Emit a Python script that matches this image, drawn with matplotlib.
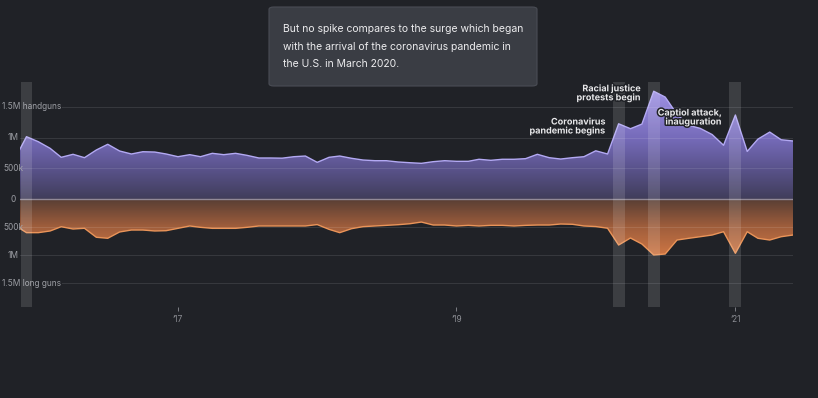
import numpy as np
import pandas as pd
import matplotlib
matplotlib.use("Agg")
import matplotlib.pyplot as plt
import matplotlib.dates as mdates
import matplotlib.patheffects as pe
from matplotlib.patches import FancyBboxPatch
from matplotlib.transforms import blended_transform_factory

plt.rcParams['font.family'] = ['Inter', 'DejaVu Sans']

# monthly estimates, Nov 2015 .. Jun 2021 (thousands)
months = pd.date_range('2015-11-01', '2021-06-01', freq='MS')
handguns = [660, 1015, 933, 825, 679, 728, 673, 798, 891, 782, 733, 770,
            765, 733, 689, 722, 689, 744, 722, 744, 711, 668, 668, 665,
            689, 700, 597, 679, 700, 663, 635, 624, 624, 603, 591, 581,
            608, 624, 614, 614, 647, 630, 647, 647, 657, 728, 673, 651,
            673, 689, 785, 733, 1225, 1145, 1220, 1755, 1660, 1380, 1200, 1150,
            1050, 875, 1368, 775, 975, 1090, 965, 945]
long_guns = [470, 599, 599, 569, 493, 534, 521, 681, 699, 587, 552, 552,
             569, 564, 522, 480, 504, 522, 522, 522, 504, 480, 480, 480,
             480, 480, 455, 540, 599, 528, 492, 480, 469, 457, 440, 410,
             463, 463, 480, 469, 480, 469, 469, 480, 469, 463, 463, 445,
             450, 480, 490, 520, 819, 694, 801, 996, 979, 730, 699, 671,
             641, 582, 966, 582, 699, 730, 671, 641]

events = ['2015-12-01', '2020-03-01', '2020-06-01', '2021-01-01']
event_labels = [None, 'Coronavirus\npandemic begins', 'Racial justice\nprotests begin',
                'Captiol attack,\ninauguration']

ytick_vals = [1.5e6, 1e6, 5e5, 0, -5e5, -1e6, -1.5e6]
ytick_text = ['1.5M handguns', '1M', '500k', '0', '500k', '1M', '1.5M long guns']
xtick_dates = ['2017-01-01', '2019-01-01', '2021-01-01']
xtick_text = ['\u201917', '\u201919', '\u201921']

note = ("But no spike compares to the surge which began\n"
        "with the arrival of the coronavirus pandemic in\n"
        "the U.S. in March 2020.")

W, H = 818, 398
BG = '#202227'

def fx(px):
    return px / W

def fy(py):
    return 1 - py / H

fig = plt.figure(figsize=(W / 100, H / 100), dpi=100, facecolor=BG)
ax = fig.add_axes([fx(20), fy(307), fx(793) - fx(20), fy(82) - fy(307)])
ax.set_facecolor(BG)

# long guns side is drawn a little more compressed than the handgun side
K = 0.915
def fwd(y):
    y = np.asarray(y, float)
    return np.where(y >= 0, y, y * K)

def inv(t):
    t = np.asarray(t, float)
    return np.where(t >= 0, t, t / K)

ax.set_yscale('function', functions=(fwd, inv))
YMAX, YMIN = 1.9055e6, -1.922e6

x = mdates.date2num(months)
hand = np.array(handguns) * 1000.0
lng = -np.array(long_guns) * 1000.0

poly_h = ax.fill_between(x, 0, hand, facecolor='none', edgecolor='none')
poly_l = ax.fill_between(x, 0, lng, facecolor='none', edgecolor='none')

# vertical gradient, purple above zero / orange below
n = 500
frac = np.linspace(0, 1, n)
tv = fwd(YMIN) + frac * (fwd(YMAX) - fwd(YMIN))
val = inv(tv) / 1e6
purple = np.array([[64, 61, 90], [90, 83, 140], [118, 107, 186], [160, 147, 230]]) / 255
orange = np.array([[88, 62, 52], [160, 94, 60], [205, 118, 68], [226, 132, 76]]) / 255
p_stops = [0, 0.5, 1.0, 1.8]
o_stops = [0, 0.5, 1.0, 1.9]
img = np.zeros((n, 1, 3))
for c in range(3):
    pc = np.interp(np.clip(val, 0, None), p_stops, purple[:, c])
    oc = np.interp(np.clip(-val, 0, None), o_stops, orange[:, c])
    img[:, 0, c] = np.where(val >= 0, pc, oc)

for poly in (poly_h, poly_l):
    im = ax.imshow(img, extent=(0, 1, 0, 1), transform=ax.transAxes, origin='lower',
                   aspect='auto', interpolation='bilinear', zorder=1)
    im.set_clip_path(poly.get_paths()[0], ax.transData)

ax.plot(x, hand, color='#b3a9f3', lw=1.0, zorder=3)
ax.plot(x, lng, color='#ea9459', lw=1.0, zorder=3)

for v in [5e5, 1e6, 1.5e6]:
    for s in (1, -1):
        ax.axhline(s * v, color='white', alpha=0.1, lw=0.8, zorder=2)
ax.axhline(0, color='#a19db0', alpha=0.8, lw=1.0, zorder=2.5)

for e in pd.to_datetime(events):
    ex = mdates.date2num(e)
    ax.axvspan(ex - 15.5, ex + 15.5, color='white', alpha=0.13, lw=0, zorder=4)

ax.set_xlim(mdates.date2num(pd.Timestamp('2015-11-14')), mdates.date2num(pd.Timestamp('2021-06-01')))
ax.set_ylim(YMIN, YMAX)

ax.set_yticks([])
ax.set_xticks(mdates.date2num(pd.to_datetime(xtick_dates)))
ax.set_xticklabels(xtick_text)
ax.tick_params(axis='x', colors='#8b8d93', length=3, width=0.6, labelsize=6, pad=2.5)
for sp in ax.spines.values():
    sp.set_visible(False)

tr = blended_transform_factory(fig.transFigure, ax.transData)
for v, t in zip(ytick_vals, ytick_text):
    if ' ' in t:
        ax.text(fx(2), v, t, transform=tr, ha='left', va='center', fontsize=6,
                color='#9c9ea4', zorder=3.5, clip_on=False,
                bbox=dict(facecolor=BG, edgecolor='none', pad=0.8))
    else:
        ax.text(fx(13.5), v, t, transform=tr, ha='center', va='center', fontsize=6,
                color='#9c9ea4', zorder=3.5, clip_on=False)

# event annotations (right aligned, px positions)
ann_pos = [None, (606, 126.5), (641, 93.3), (722, 117.5)]
stroke = [pe.withStroke(linewidth=2.2, foreground=BG)]
for lab, pos in zip(event_labels, ann_pos):
    if lab is None:
        continue
    fig.text(fx(pos[0]), fy(pos[1]), lab, ha='right', va='center', fontsize=6.5,
             fontweight='bold', color='#e8e8ea', linespacing=1.0, path_effects=stroke)

box = FancyBboxPatch((fx(269), fy(86)), fx(537) - fx(269), fy(7) - fy(86),
                     boxstyle='round,pad=0,rounding_size=0.006', transform=fig.transFigure,
                     facecolor='#3a3d44', edgecolor='#4a4d55', lw=0.8)
fig.add_artist(box)
fig.text(fx(283), fy(46.5), note, ha='left', va='center', fontsize=7.5,
         color='#ececee', linespacing=1.95)

fig.savefig('out.png', dpi=100, facecolor=BG)
